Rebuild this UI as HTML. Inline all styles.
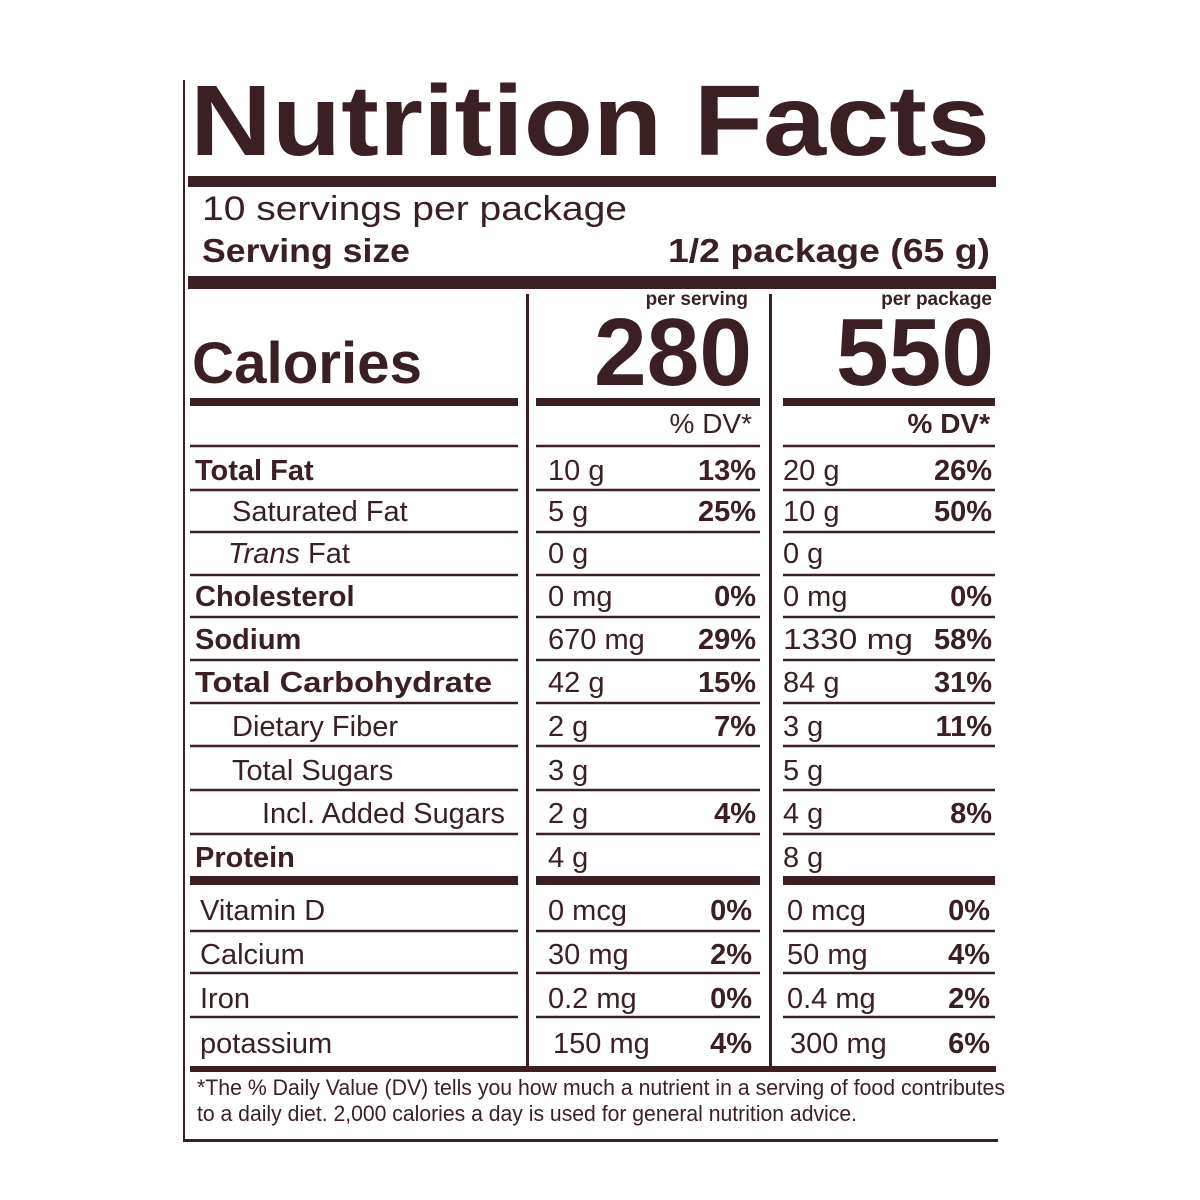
<!DOCTYPE html>
<html><head><meta charset="utf-8"><style>
html,body{margin:0;padding:0;background:#fff;}
svg{display:block}
text{font-family:"Liberation Sans",sans-serif;fill:#3a1f23}
.b{font-weight:bold}
</style></head><body>
<svg width="1200" height="1200" viewBox="0 0 1200 1200" xmlns="http://www.w3.org/2000/svg">
<rect width="1200" height="1200" fill="#fff"/>
<g fill="#3a1f23">
<rect x="183" y="80" width="2" height="1062"/>
<rect x="183" y="1139" width="815" height="3"/>
<rect x="188" y="176" width="808" height="11"/>
<rect x="188" y="276" width="808" height="13"/>
<rect x="526" y="294" width="3" height="772"/>
<rect x="769" y="294" width="3" height="772"/>
<rect x="190" y="398" width="328" height="8"/>
<rect x="536" y="398" width="224" height="8"/>
<rect x="783" y="398" width="212" height="8"/>
<rect x="190" y="876" width="328" height="9"/>
<rect x="536" y="876" width="224" height="9"/>
<rect x="783" y="876" width="212" height="9"/>
<rect x="190" y="1066" width="806" height="6"/>
</g>
<g stroke="#3a1f23" stroke-width="2.5">
<line x1="190" y1="446" x2="518" y2="446"/><line x1="536" y1="446" x2="760" y2="446"/><line x1="783" y1="446" x2="995" y2="446"/>
<line x1="190" y1="490" x2="518" y2="490"/><line x1="536" y1="490" x2="760" y2="490"/><line x1="783" y1="490" x2="995" y2="490"/>
<line x1="190" y1="532" x2="518" y2="532"/><line x1="536" y1="532" x2="760" y2="532"/><line x1="783" y1="532" x2="995" y2="532"/>
<line x1="190" y1="575" x2="518" y2="575"/><line x1="536" y1="575" x2="760" y2="575"/><line x1="783" y1="575" x2="995" y2="575"/>
<line x1="190" y1="617" x2="518" y2="617"/><line x1="536" y1="617" x2="760" y2="617"/><line x1="783" y1="617" x2="995" y2="617"/>
<line x1="190" y1="660" x2="518" y2="660"/><line x1="536" y1="660" x2="760" y2="660"/><line x1="783" y1="660" x2="995" y2="660"/>
<line x1="190" y1="703" x2="518" y2="703"/><line x1="536" y1="703" x2="760" y2="703"/><line x1="783" y1="703" x2="995" y2="703"/>
<line x1="190" y1="746" x2="518" y2="746"/><line x1="536" y1="746" x2="760" y2="746"/><line x1="783" y1="746" x2="995" y2="746"/>
<line x1="190" y1="790" x2="518" y2="790"/><line x1="536" y1="790" x2="760" y2="790"/><line x1="783" y1="790" x2="995" y2="790"/>
<line x1="190" y1="834" x2="518" y2="834"/><line x1="536" y1="834" x2="760" y2="834"/><line x1="783" y1="834" x2="995" y2="834"/>
<line x1="190" y1="931" x2="518" y2="931"/><line x1="536" y1="931" x2="760" y2="931"/><line x1="783" y1="931" x2="995" y2="931"/>
<line x1="190" y1="973" x2="518" y2="973"/><line x1="536" y1="973" x2="760" y2="973"/><line x1="783" y1="973" x2="995" y2="973"/>
<line x1="190" y1="1017" x2="518" y2="1017"/><line x1="536" y1="1017" x2="760" y2="1017"/><line x1="783" y1="1017" x2="995" y2="1017"/>
</g>
<text class="b" x="190" y="155" font-size="100" textLength="800" lengthAdjust="spacingAndGlyphs">Nutrition Facts</text>
<text x="202" y="220" font-size="34" textLength="425" lengthAdjust="spacingAndGlyphs">10 servings per package</text>
<text class="b" x="202" y="262" font-size="33" textLength="208" lengthAdjust="spacingAndGlyphs">Serving size</text>
<text class="b" x="990" y="262" font-size="33" text-anchor="end" textLength="322" lengthAdjust="spacingAndGlyphs">1/2 package (65 g)</text>
<text class="b" x="748" y="305" font-size="19" text-anchor="end">per serving</text>
<text class="b" x="992" y="305" font-size="19" text-anchor="end">per package</text>
<text class="b" x="192" y="383" font-size="58" textLength="230" lengthAdjust="spacingAndGlyphs">Calories</text>
<text class="b" x="752" y="385" font-size="96" text-anchor="end" textLength="158" lengthAdjust="spacingAndGlyphs">280</text>
<text class="b" x="994" y="385" font-size="96" text-anchor="end" textLength="158" lengthAdjust="spacingAndGlyphs">550</text>
<text x="752" y="433" font-size="28" text-anchor="end">% DV*</text>
<text class="b" x="990" y="433" font-size="28" text-anchor="end">% DV*</text>
<g font-size="29">
<text class="b" x="195" y="480">Total Fat</text>
<text x="232" y="521">Saturated Fat</text>
<text x="228" y="563" font-style="italic">Trans<tspan font-style="normal"> Fat</tspan></text>
<text class="b" x="195" y="606">Cholesterol</text>
<text class="b" x="195" y="649">Sodium</text>
<text class="b" x="195" y="692" textLength="297" lengthAdjust="spacingAndGlyphs">Total Carbohydrate</text>
<text x="232" y="736">Dietary Fiber</text>
<text x="232" y="780">Total Sugars</text>
<text x="262" y="823" textLength="243" lengthAdjust="spacingAndGlyphs">Incl. Added Sugars</text>
<text class="b" x="195" y="867">Protein</text>
<text x="200" y="920">Vitamin D</text>
<text x="200" y="964">Calcium</text>
<text x="200" y="1008">Iron</text>
<text x="200" y="1053">potassium</text>

<text x="548" y="480">10 g</text><text class="b" x="756" y="480" text-anchor="end">13%</text>
<text x="548" y="521">5 g</text><text class="b" x="756" y="521" text-anchor="end">25%</text>
<text x="548" y="563">0 g</text>
<text x="548" y="606">0 mg</text><text class="b" x="756" y="606" text-anchor="end">0%</text>
<text x="548" y="649">670 mg</text><text class="b" x="756" y="649" text-anchor="end">29%</text>
<text x="548" y="692">42 g</text><text class="b" x="756" y="692" text-anchor="end">15%</text>
<text x="548" y="736">2 g</text><text class="b" x="756" y="736" text-anchor="end">7%</text>
<text x="548" y="780">3 g</text>
<text x="548" y="823">2 g</text><text class="b" x="756" y="823" text-anchor="end">4%</text>
<text x="548" y="867">4 g</text>
<text x="548" y="920">0 mcg</text><text class="b" x="752" y="920" text-anchor="end">0%</text>
<text x="548" y="964">30 mg</text><text class="b" x="752" y="964" text-anchor="end">2%</text>
<text x="548" y="1008">0.2 mg</text><text class="b" x="752" y="1008" text-anchor="end">0%</text>
<text x="553" y="1053">150 mg</text><text class="b" x="752" y="1053" text-anchor="end">4%</text>

<text x="783" y="480">20 g</text><text class="b" x="992" y="480" text-anchor="end">26%</text>
<text x="783" y="521">10 g</text><text class="b" x="992" y="521" text-anchor="end">50%</text>
<text x="783" y="563">0 g</text>
<text x="783" y="606">0 mg</text><text class="b" x="992" y="606" text-anchor="end">0%</text>
<text x="783" y="649" textLength="130" lengthAdjust="spacingAndGlyphs">1330 mg</text><text class="b" x="992" y="649" text-anchor="end">58%</text>
<text x="783" y="692">84 g</text><text class="b" x="992" y="692" text-anchor="end">31%</text>
<text x="783" y="736">3 g</text><text class="b" x="992" y="736" text-anchor="end">11%</text>
<text x="783" y="780">5 g</text>
<text x="783" y="823">4 g</text><text class="b" x="992" y="823" text-anchor="end">8%</text>
<text x="783" y="867">8 g</text>
<text x="787" y="920">0 mcg</text><text class="b" x="990" y="920" text-anchor="end">0%</text>
<text x="787" y="964">50 mg</text><text class="b" x="990" y="964" text-anchor="end">4%</text>
<text x="787" y="1008">0.4 mg</text><text class="b" x="990" y="1008" text-anchor="end">2%</text>
<text x="790" y="1053">300 mg</text><text class="b" x="990" y="1053" text-anchor="end">6%</text>
</g>
<text x="197" y="1095" font-size="22" textLength="808" lengthAdjust="spacingAndGlyphs">*The % Daily Value (DV) tells you how much a nutrient in a serving of food contributes</text>
<text x="197" y="1121" font-size="22" textLength="660" lengthAdjust="spacingAndGlyphs">to a daily diet. 2,000 calories a day is used for general nutrition advice.</text>
</svg>
</body></html>
